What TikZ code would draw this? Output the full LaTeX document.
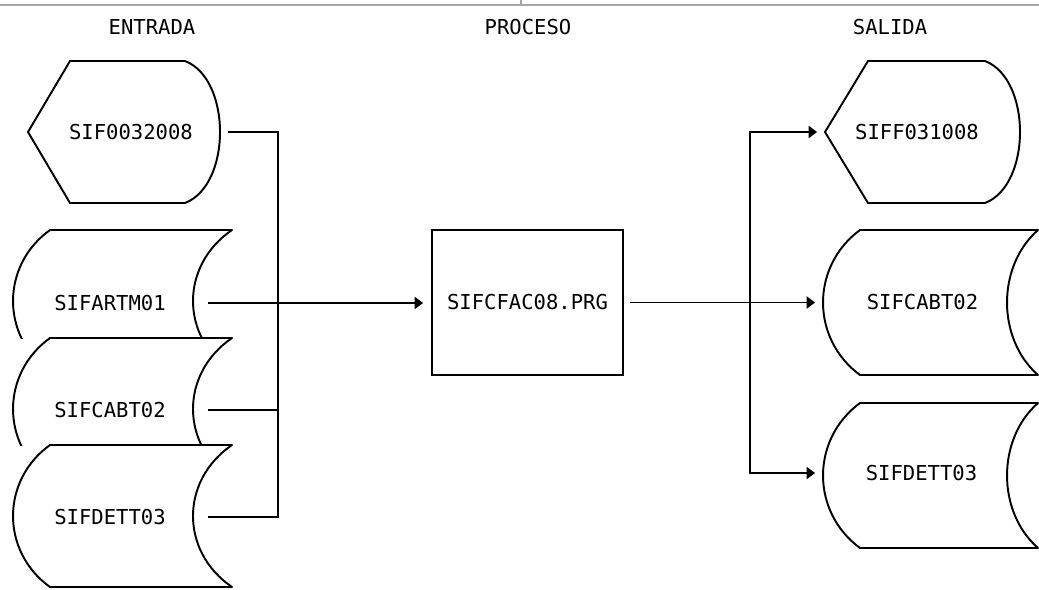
\documentclass[tikz,border=0pt]{standalone}
\usepackage{fontspec}
\newfontfamily\printfont{DejaVu Sans Mono}
\usetikzlibrary{arrows.meta}

\begin{document}
\begin{tikzpicture}[x=0.02cm, y=-0.02cm,
  txt/.style={font=\printfont\fontsize{11.7}{14}\selectfont, inner sep=0pt, outer sep=0pt},
  filebox/.style={line width=1.1pt, line join=round},
  procbox/.style={txt, draw, line width=1.2pt, minimum width=3.82cm, minimum height=2.9cm},
  link/.style={line width=0.6pt},
  tip/.style={-{Triangle[length=0.17cm, width=0.25cm]}}
]
  \useasboundingbox (0,0) rectangle (1039,589);

  % top rule
  \draw[gray!70, line width=0.8pt] (0,5) -- (1039,5);
  \draw[gray!70, line width=0.6pt] (521,0) -- (521,5);

  \node[txt] (hin) at (152,27) {ENTRADA};
  \node[txt] (hpro) at (528,27) {PROCESO};
  \node[txt] (hout) at (890,27) {SALIDA};

  % input display
  \draw[filebox] (70,61) -- (185,61) .. controls (231.7,79) and (231.7,185) .. (185,203)
    -- (70,203) -- (28,132) -- cycle;
  \node[txt, minimum width=3.88cm] (disin) at (131,132) {SIF0032008};

  % stacked input files
  \foreach \top/\cut in {230/338, 338/445, 445/600} {
    \begin{scope}
      \clip (0,220) rectangle (300,\cut);
      \draw[filebox] (50,\top) -- (232,\top)
        .. controls (180,\top+35.5) and (180,\top+106.5) .. (232,\top+142)
        -- (50,\top+142) .. controls (0.7,\top+106.5) and (0.7,\top+35.5) .. cycle;
    \end{scope}
  }
  \node[txt, minimum width=3.92cm] (artin) at (110,303) {SIFARTM01};
  \node[txt, minimum width=3.92cm] (cabin) at (110,410) {SIFCABT02};
  \node[txt, minimum width=3.92cm] (detin) at (110,517) {SIFDETT03};

  % process
  \node[procbox] (prg) at (527.5,302.5) {SIFCFAC08.PRG};

  % output display
  \draw[filebox] (868,61) -- (985,61) .. controls (1031.7,79) and (1031.7,185) .. (985,203)
    -- (868,203) -- (825,132) -- cycle;
  \node[txt, minimum width=3.68cm] (disout) at (917,132) {SIFF031008};

  % output files
  \foreach \top in {230, 403} {
    \draw[filebox] (860,\top) -- (1038,\top)
      .. controls (996.7,\top+36.25) and (996.7,\top+108.75) .. (1038,\top+145)
      -- (860,\top+145) .. controls (810.7,\top+108.75) and (810.7,\top+36.25) .. cycle;
  }
  \node[txt, minimum width=3.98cm] (cabout) at (922.5,302) {SIFCABT02};
  \node[txt, minimum width=3.94cm] (detout) at (921.5,473) {SIFDETT03};

  % connectors
  \coordinate (tinbot) at (278,517);
  \coordinate (toutbot) at (750,473);
  \draw[link] (disin.east) -| (tinbot) -- (detin.east);
  \draw[link] (cabin.east) -- (cabin.east -| tinbot);
  \draw[link, tip, shorten >=0.18cm] (artin.east) -- (artin.east -| prg.west);
  \draw[link, tip, shorten <=0.14cm, shorten >=0.16cm] (prg.east) -- (prg.east -| cabout.west);
  \draw[link, {Triangle[length=0.17cm, width=0.25cm]}-{Triangle[length=0.17cm, width=0.25cm]},
    shorten <=0.16cm, shorten >=0.16cm] (disout.west) -| (toutbot) -- (detout.west);
\end{tikzpicture}
\end{document}
